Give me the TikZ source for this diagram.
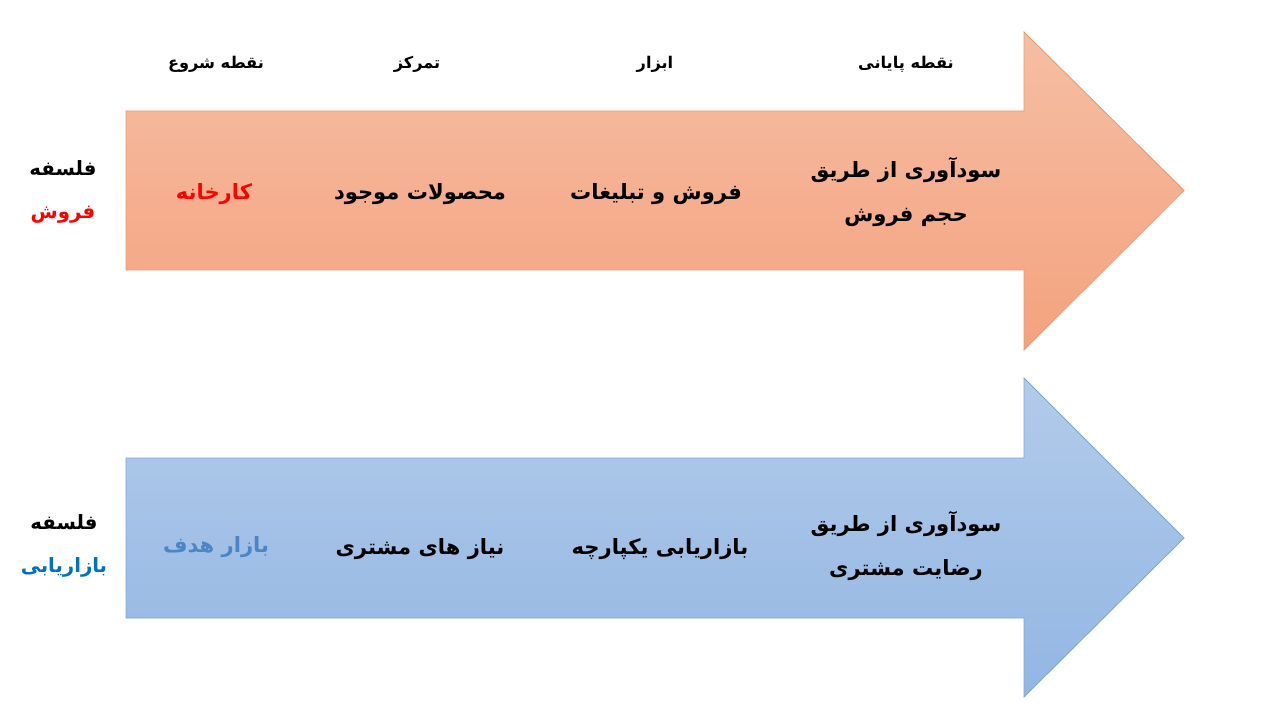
\documentclass[tikz,border=0pt]{standalone}
\usepackage{fontspec}
\newfontfamily\arabicfont[Script=Arabic]{DejaVu Sans}
\TeXXeTstate=1
\newcommand{\fa}[1]{{\arabicfont\bfseries\beginR #1\endR}}
\definecolor{orangeTop}{HTML}{F6BEA4}
\definecolor{orangeBot}{HTML}{F4A27E}
\definecolor{orangeLine}{HTML}{F19A62}
\definecolor{blueTop}{HTML}{B3CBEA}
\definecolor{blueBot}{HTML}{92B6E3}
\definecolor{blueLine}{HTML}{7AA7DC}
\definecolor{salesRed}{HTML}{FF0000}
\definecolor{mktBlue}{HTML}{0070C0}
\definecolor{targetBlue}{HTML}{4A86C5}
\tikzset{
  head/.style={font=\fontsize{11.5}{15}\selectfont},
  cell/.style={font=\fontsize{15}{31}\selectfont, align=center},
  side/.style={font=\fontsize{14}{31}\selectfont, align=center}
}

\begin{document}
\begin{tikzpicture}
  \useasboundingbox (0, 0) rectangle (32, 18);

  % 上方箭头:橙色渐变
  \path[top color=orangeTop, bottom color=orangeBot, draw=orangeLine, line width=0.6pt]
    (3.15, 15.225) -- (25.6, 15.225) -- (25.6, 17.2) -- (29.6, 13.24)
    -- (25.6, 9.25) -- (25.6, 11.25) -- (3.15, 11.25) -- cycle;
  % 下方箭头:蓝色渐变
  \path[top color=blueTop, bottom color=blueBot, draw=blueLine, line width=0.6pt]
    (3.15, 6.55) -- (25.6, 6.55) -- (25.6, 8.55) -- (29.6, 4.55)
    -- (25.6, 0.575) -- (25.6, 2.55) -- (3.15, 2.55) -- cycle;

  % 列标题
  \node[head] (start) at (5.4, 16.4) {\fa{نقطه شروع}};
  \node[head] (focus) at (10.425, 16.4) {\fa{تمرکز}};
  \node[head] (tools) at (16.375, 16.4) {\fa{ابزار}};
  \node[head] (end) at (22.65, 16.4) {\fa{نقطه پایانی}};

  % 销售哲学
  \node[side] (salesPhil) at (1.575, 13.2)
    {\fa{فلسفه}\\\textcolor{salesRed}{\fa{فروش}}};
  \node[cell, text=salesRed] (salesStart) at (5.35, 13.15) {\fa{کارخانه}};
  \node[cell] (salesFocus) at (10.5, 13.15) {\fa{محصولات موجود}};
  \node[cell] (salesTools) at (16.4, 13.15) {\fa{فروش و تبلیغات}};
  \node[cell] (salesEnd) at (22.65, 13.2)
    {\fa{سودآوری از طریق}\\\fa{حجم فروش}};

  % 营销哲学
  \node[side] (mktPhil) at (1.6, 4.35)
    {\fa{فلسفه}\\\textcolor{mktBlue}{\fa{بازاریابی}}};
  \node[cell, text=targetBlue] (mktStart) at (5.4, 4.33) {\fa{بازار هدف}};
  \node[cell] (mktFocus) at (10.5, 4.28) {\fa{نیاز های مشتری}};
  \node[cell] (mktTools) at (16.5, 4.28) {\fa{بازاریابی یکپارچه}};
  \node[cell] (mktEnd) at (22.65, 4.35)
    {\fa{سودآوری از طریق}\\\fa{رضایت مشتری}};
\end{tikzpicture}
\end{document}
